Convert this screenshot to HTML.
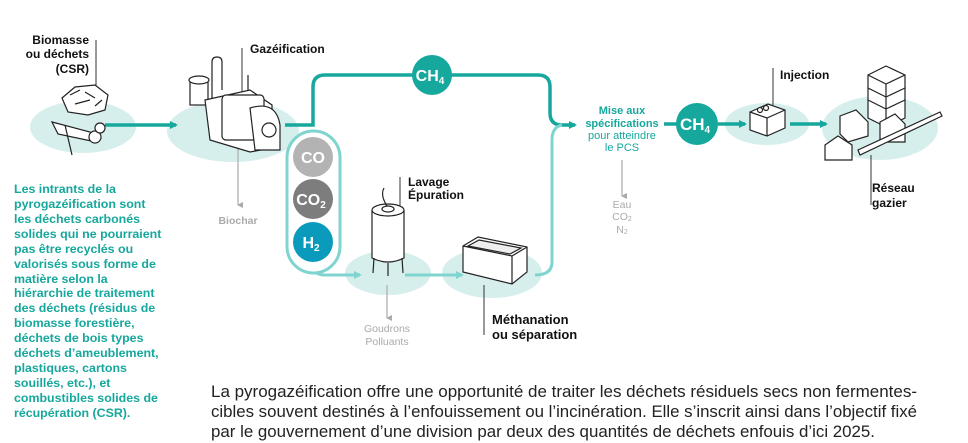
<!DOCTYPE html>
<html><head><meta charset="utf-8"><style>
html,body{margin:0;padding:0;background:#fff;}
svg{display:block;font-family:"Liberation Sans",sans-serif;}
</style></head><body>
<svg width="968" height="443" viewBox="0 0 968 443" xmlns="http://www.w3.org/2000/svg">
<defs>
<marker id="at" markerWidth="8" markerHeight="8" refX="6" refY="4" orient="auto" markerUnits="userSpaceOnUse"><path d="M0,0 L8,4 L0,8 Z" fill="#16a79d"/></marker>
<marker id="al" markerWidth="8" markerHeight="8" refX="6" refY="4" orient="auto" markerUnits="userSpaceOnUse"><path d="M0,0 L8,4 L0,8 Z" fill="#7fd4cf"/></marker>
<marker id="ag" markerWidth="6" markerHeight="6" refX="3" refY="5" orient="auto" markerUnits="userSpaceOnUse"><path d="M0,0 L3,6 L6,0 Z" fill="#aaa"/></marker>
</defs>
<g fill="#d6efed">
<ellipse cx="83" cy="127" rx="53" ry="26"/>
<ellipse cx="233" cy="131" rx="66" ry="31"/>
<ellipse cx="388" cy="273" rx="43" ry="22"/>
<ellipse cx="492" cy="273" rx="50" ry="25"/>
<ellipse cx="767" cy="124" rx="42" ry="21"/>
<ellipse cx="880" cy="128" rx="58" ry="32"/>
</g>
<g fill="none" stroke="#16a79d" stroke-width="3.5">
<line x1="105" y1="125" x2="176" y2="125" marker-end="url(#at)"/>
<path d="M285,125 H313 V87 Q313,75 325,75 H538 Q550,75 550,87 V113 Q550,125 562,125 H575" marker-end="url(#at)"/>
<line x1="664" y1="124" x2="678" y2="124"/>
<line x1="718" y1="124" x2="745" y2="124" marker-end="url(#at)"/>
<line x1="790" y1="124" x2="826" y2="124" marker-end="url(#at)"/>
</g>
<g fill="none" stroke="#7fd4cf" stroke-width="3">
<path d="M313,265 Q313,275 325,275 H360" marker-end="url(#al)"/>
<line x1="405" y1="275" x2="462" y2="275" marker-end="url(#al)"/>
<path d="M535,275 Q552,275 552,262 V140 Q552,127 562,125"/>
</g>
<g stroke="#aaa" stroke-width="1.2" fill="none">
<line x1="238" y1="148" x2="238" y2="205" marker-end="url(#ag)"/>
<line x1="387" y1="285" x2="387" y2="318" marker-end="url(#ag)"/>
<line x1="622" y1="160" x2="622" y2="196" marker-end="url(#ag)"/>
</g>
<g stroke="#333" stroke-width="1">
<line x1="96" y1="40" x2="96" y2="95"/>
<line x1="242" y1="48" x2="242" y2="100"/>
<line x1="400" y1="177" x2="400" y2="225"/>
<line x1="484" y1="285" x2="484" y2="335"/>
<line x1="773" y1="68" x2="773" y2="105"/>
<line x1="871" y1="155" x2="871" y2="205"/>
</g>
<rect x="287" y="131" width="53" height="142" rx="26.5" fill="#fff" stroke="#7fd4cf" stroke-width="3"/>
<circle cx="313" cy="157" r="20" fill="#b3b3b3"/>
<circle cx="313" cy="199" r="20" fill="#7d7d7d"/>
<circle cx="313" cy="242" r="20" fill="#0a9bbc"/>
<g fill="#fff" font-weight="bold" text-anchor="middle">
<text x="313" y="163" font-size="16">CO</text>
<text x="311" y="205" font-size="16">CO<tspan font-size="10" dy="3">2</tspan></text>
<text x="311" y="248" font-size="16">H<tspan font-size="10" dy="3">2</tspan></text>
</g>
<circle cx="432" cy="75" r="20" fill="#16a79d"/>
<text x="430" y="81" fill="#fff" font-weight="bold" font-size="16" text-anchor="middle">CH<tspan font-size="10" dy="3">4</tspan></text>
<circle cx="697" cy="124" r="21" fill="#16a79d"/>
<text x="695" y="130" fill="#fff" font-weight="bold" font-size="17" text-anchor="middle">CH<tspan font-size="10" dy="3">4</tspan></text>
<g fill="#fff" stroke="#222" stroke-width="1.2">
<path d="M62,98 L75,87 L95,85 L108,95 L105,110 L88,115 L68,112 Z"/>
<path d="M70,95 L80,90 M85,92 L95,98 M75,104 L90,100 M95,106 L102,100"/>
<path d="M52,122 L90,132 L96,142 L58,134 Z"/>
<circle cx="95" cy="137" r="6"/><circle cx="100" cy="128" r="5"/>
<line x1="65" y1="125" x2="72" y2="155"/>
<rect x="190" y="80" width="18" height="25"/>
<ellipse cx="199" cy="80" rx="10" ry="4"/>
<path d="M212,105 V62 Q212,57 217,57 Q222,57 222,62 V90"/>
<path d="M205,100 L250,90 L272,105 L272,148 L250,152 L210,140 Z"/>
<rect x="222" y="95" width="42" height="45" rx="4"/>
<path d="M250,108 Q276,100 280,125 L280,150 L255,150 Z"/>
<circle cx="269" cy="130" r="7"/>
<line x1="248" y1="90" x2="248" y2="75"/>
<path d="M372,210 Q388,202 404,210 V258 Q388,266 372,258 Z"/>
<ellipse cx="388" cy="210" rx="16" ry="6"/>
<ellipse cx="388" cy="209" rx="6" ry="3"/>
<path d="M387,206 Q380,195 384,188" fill="none"/>
<line x1="374" y1="258" x2="373" y2="273"/><line x1="402" y1="258" x2="403" y2="273"/><line x1="388" y1="263" x2="388" y2="276"/>
<path d="M463,246 L478,237 L527,247 L527,272 L512,284 L463,272 Z"/>
<path d="M463,246 L512,256 L527,247 M512,256 V284"/>
<path d="M468,246 L479,240 L521,248 L510,254 Z" fill="#eee"/>
<path d="M750,112 L768,104 L785,110 L785,128 L767,136 L750,130 Z"/>
<path d="M750,112 L767,118 L785,110 M767,118 V136"/>
<circle cx="760" cy="110" r="2.5"/><circle cx="766" cy="108" r="2.5"/>
<path d="M868,75 L886,66 L905,75 L905,118 L886,127 L868,118 Z"/>
<path d="M868,75 L886,84 L905,75 M886,84 V127 M868,88 L886,97 L905,88 M868,100 L886,109 L905,100"/>
<path d="M840,116 L856,110 L868,122 L868,136 L848,142 L840,134 Z"/>
<path d="M825,145 L838,136 L852,145 L852,160 L825,160 Z"/>
<path d="M880,122 L895,114 L905,124 L905,142 L880,142 Z"/>
<path d="M858,150 L940,112 L942,116 L860,155 Z"/>
</g>
<g fill="#111" font-weight="bold" font-size="12">
<text x="89" y="44" text-anchor="end">Biomasse</text>
<text x="89" y="58" text-anchor="end">ou déchets</text>
<text x="89" y="73" text-anchor="end">(CSR)</text>
<text x="250" y="53">Gazéification</text>
<text x="408" y="186">Lavage</text>
<text x="408" y="199">Épuration</text>
<text x="780" y="79">Injection</text>
<text x="872" y="192">Réseau</text>
<text x="872" y="207">gazier</text>
<text x="492" y="324" font-size="13">Méthanation</text>
<text x="492" y="339" font-size="13">ou séparation</text>
</g>
<g fill="#aaa" font-size="10.5" text-anchor="middle">
<text x="238" y="224" font-weight="bold">Biochar</text>
<text x="387" y="332">Goudrons</text>
<text x="387" y="345">Polluants</text>
<text x="622" y="208">Eau</text>
<text x="622" y="220">CO<tspan font-size="7" dy="1">2</tspan></text>
<text x="622" y="233">N<tspan font-size="7" dy="1">2</tspan></text>
</g>
<g fill="#16a79d" font-size="11" text-anchor="middle">
<text x="622" y="114" font-weight="bold">Mise aux</text>
<text x="622" y="127" font-weight="bold">spécifications</text>
<text x="622" y="139">pour atteindre</text>
<text x="622" y="151">le PCS</text>
</g>
<g fill="#16a79d" font-weight="bold" font-size="12.4">
<text x="14" y="193">Les intrants de la</text>
<text x="14" y="208">pyrogazéification sont</text>
<text x="14" y="223">les déchets carbonés</text>
<text x="14" y="238">solides qui ne pourraient</text>
<text x="14" y="253">pas être recyclés ou</text>
<text x="14" y="268">valorisés sous forme de</text>
<text x="14" y="283">matière selon la</text>
<text x="14" y="297">hiérarchie de traitement</text>
<text x="14" y="312">des déchets (résidus de</text>
<text x="14" y="327">biomasse forestière,</text>
<text x="14" y="342">déchets de bois types</text>
<text x="14" y="357">déchets d’ameublement,</text>
<text x="14" y="372">plastiques, cartons</text>
<text x="14" y="387">souillés, etc.), et</text>
<text x="14" y="402">combustibles solides de</text>
<text x="14" y="417">récupération (CSR).</text>
</g>
<g fill="#222" font-size="16.3">
<text x="211" y="397" textLength="706" lengthAdjust="spacingAndGlyphs">La pyrogazéification offre une opportunité de traiter les déchets résiduels secs non fermentes-</text>
<text x="211" y="417" textLength="706" lengthAdjust="spacingAndGlyphs">cibles souvent destinés à l’enfouissement ou l’incinération. Elle s’inscrit ainsi dans l’objectif fixé</text>
<text x="211" y="437" textLength="664" lengthAdjust="spacingAndGlyphs">par le gouvernement d’une division par deux des quantités de déchets enfouis d’ici 2025.</text>
</g>
</svg>
</body></html>
